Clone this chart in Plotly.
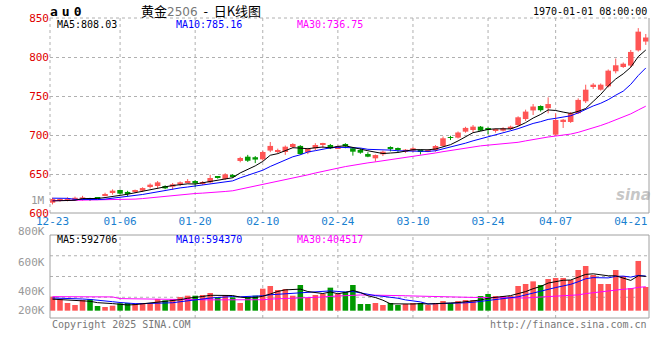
import plotly.graph_objects as go

# ---------------- data ----------------
dates = ["12-23","12-24","12-25","12-26","12-27","12-30","12-31",
         "01-02","01-03","01-06","01-07","01-08","01-09","01-10",
         "01-13","01-14","01-15","01-16","01-17","01-20","01-21",
         "01-22","01-23","01-24","01-27","02-05","02-06","02-07",
         "02-10","02-11","02-12","02-13","02-14","02-17","02-18",
         "02-19","02-20","02-21","02-24","02-25","02-26","02-27",
         "02-28","03-03","03-04","03-05","03-06","03-07","03-10",
         "03-11","03-12","03-13","03-14","03-17","03-18","03-19",
         "03-20","03-21","03-24","03-25","03-26","03-27","03-28",
         "03-31","04-01","04-02","04-03","04-07","04-08","04-09",
         "04-10","04-11","04-14","04-15","04-16","04-17","04-18",
         "04-21","04-22","04-23"]

opens = [613.2,615.5,616.5,617.5,617.5,618,619.5,622.5,625.6,629.5,
         627,627,628.6,633.3,634.6,634.6,633.8,636.3,639,641,
         637.2,639.3,646.3,643.6,648.5,666.7,672.2,671.5,668.8,680,
         678.2,678.2,684.6,686,677.8,682.9,687.2,687.2,683,688.5,
         683,680.8,675.6,670.1,675.3,684.6,683,678.6,680,680,
         679.2,680.8,685.9,696.8,696.6,704.3,706.4,710.7,707.8,706,
         705.5,707.7,712.8,720.5,731.5,737.2,734.4,700.4,717.6,716.7,
         728,743.2,762.4,758.1,762.4,781.7,787.2,789,808.5,819.8]
closes = [617.9,617,618,619.5,620,617,618.5,624,628.6,624.8,
          624.5,628.6,632,636.3,639.3,631.6,636.8,639.3,640,638,
          639.7,644.9,645.5,649.6,646.5,670.5,667,668.5,678.2,686,
          680.8,685,688.5,675.6,682.1,687.2,689.4,683,685.5,685.5,
          678.6,677.3,672.2,674.3,678.6,682,680.8,681.2,683,679.3,
          680.8,685.9,695.8,696.2,703.2,709.1,710.7,705.6,707,707.3,
          708.6,710.7,722.7,730,736.5,731.8,739.7,719.2,719.6,728,
          745,758.1,764.5,764.5,782.5,789.4,791.4,806.5,832.5,825]
highs = [619.6,618.5,620,621,622,619.5,620.5,626,630.3,630,
         628.5,630,633,638,641,635.5,638.5,640.5,643.5,642,
         641,649,647,651,650,672,674.5,673,679.5,691,
         682.5,686.5,689.5,687,683.5,689.5,690,688.5,686.5,689.5,
         684,683,678,675,680,685.5,684,682,684.5,681.4,
         681.5,687,698,699,704.5,710.5,712.8,711.5,709.8,708.5,
         710,712,724,732.5,739.7,738,748.3,728,720.5,729.5,
         747,764.5,766.5,766,784,798,793,809,837,829.5]
lows = [611,614.5,615,616.5,616,615.5,617.5,621.5,623.5,624,
        621.5,625.5,627,631.5,631.5,630.5,630,634.5,638,633.5,
        636,638,644,642.5,645,665,665.5,664,667,678,
        676.5,674.5,683,674.5,675.5,680.5,683,682,682,683,
        673.5,676,671.5,665.8,673,679,678,677,678,675,
        678,678.6,685,693.5,695.5,703,703.5,705,701,703,
        704.5,706.5,711.5,718,725.6,730,727.8,699,709,715.5,
        727,741,759,757,761,779,786,787,807,815.5]
volumes_k = [249,208,137,101,190,202,84,66,89,131,
             137,119,137,137,208,184,208,243,267,267,
             279,315,238,279,238,137,249,267,392,440,
             368,386,267,457,226,279,297,410,297,338,
             457,119,119,137,101,137,101,119,137,137,
             101,137,173,137,173,190,190,261,297,261,
             261,261,440,475,522,457,564,582,582,546,
             724,795,635,475,475,724,617,404,885,422]

# moving-average values before enough history exists
ma5_head = [615.5, 615.5, 615.8, 616.3]
ma10_head = [619.0, 619.0, 618.8, 617.5, 617.2, 617.0, 617.2, 617.8, 618.8]
ma30_head = [615.8, 615.9, 616.0, 616.1, 616.2, 616.3, 616.4, 616.6, 617.0, 617.3,
             617.5, 617.8, 618.5, 619.5, 620.5, 621.5, 622.5, 623.3, 624.0, 625.0,
             625.5, 626.0, 626.8, 627.6, 628.5, 630.5, 632.5, 634.5, 636.5]
vma5_head_k = [205, 200, 195, 190]
vma10_head_k = [226, 224, 220, 215, 208, 200, 190, 175, 160]
vma30_head_k = [250, 250, 249, 249, 248, 248, 247, 246, 245, 215, 212, 210, 208, 206,
                200, 199, 198, 197, 196, 195, 194, 193, 193, 192, 192, 192, 193, 194, 195]

price_ma_text = {"MA5": "808.03", "MA10": "785.16", "MA30": "736.75"}
vol_ma_text = {"MA5": "592706", "MA10": "594370", "MA30": "404517"}
tick_dates = ["12-23","01-06","01-20","02-10","02-24","03-10","03-24","04-07","04-21"]
price_ticks = [600, 650, 700, 750, 800, 850]
vol_labels = ["800K", "600K", "400K", "200K"]

# ---------------- helpers ----------------
def moving_avg(vals, n, head):
    out = list(head)
    for i in range(n - 1, len(vals)):
        out.append(sum(vals[i - n + 1:i + 1]) / n)
    return out

RED = "#ff5555"
GREEN = "#009900"
MONO = "DejaVu Sans Mono"
W, H = 660, 360

idx = list(range(len(dates)))
volumes = [v * 1000 for v in volumes_k]
up = [c >= o for o, c in zip(opens, closes)]
colors = [RED if u else GREEN for u in up]

fig = go.Figure()

# wicks
for flag, col in ((True, RED), (False, GREEN)):
    wx, wy = [], []
    for i in idx:
        if up[i] == flag:
            wx += [i, i, None]
            wy += [lows[i], highs[i], None]
    fig.add_trace(go.Scatter(x=wx, y=wy, mode="lines", line=dict(color=col, width=1),
                             hoverinfo="skip", xaxis="x", yaxis="y"))

# bodies
fig.add_trace(go.Bar(
    x=idx, base=[min(o, c) for o, c in zip(opens, closes)],
    y=[max(abs(c - o), 1.2) for o, c in zip(opens, closes)],
    width=0.74, marker=dict(color=colors, line=dict(width=0)),
    xaxis="x", yaxis="y"))

# price MAs
for n, head, col in ((30, ma30_head, "#ff00ff"), (10, ma10_head, "#0000ff"), (5, ma5_head, "#000000")):
    fig.add_trace(go.Scatter(x=idx, y=moving_avg(closes, n, head), mode="lines",
                             line=dict(color=col, width=1), xaxis="x", yaxis="y"))

# volume bars
fig.add_trace(go.Bar(x=idx, y=volumes, width=0.74,
                     marker=dict(color=colors, line=dict(width=0)),
                     xaxis="x2", yaxis="y2"))
for n, head, col in ((30, vma30_head_k, "#ff00ff"), (10, vma10_head_k, "#0000ff"), (5, vma5_head_k, "#000000")):
    fig.add_trace(go.Scatter(x=idx, y=moving_avg(volumes, n, [h * 1000 for h in head]), mode="lines",
                             line=dict(color=col, width=1), xaxis="x2", yaxis="y2"))

# ---------------- layout ----------------
xdom = [50 / W, 649 / W]
pdom = [1 - 213 / H, 1 - 18 / H]
vdom = [1 - 318 / H, 1 - 235 / H]
xr = [-0.33, 79.43]
tick_idx = [dates.index(d) for d in tick_dates]

fig.update_layout(
    width=W, height=H, margin=dict(l=0, r=0, t=0, b=0, autoexpand=False),
    paper_bgcolor="white", plot_bgcolor="white", showlegend=False,
    xaxis=dict(domain=xdom, range=xr, anchor="y", tickvals=tick_idx, ticktext=tick_dates,
               tickfont=dict(family=MONO, size=11, color="#1a80d0"), ticks="",
               showgrid=False, zeroline=False, showline=False, automargin=False),
    xaxis2=dict(domain=xdom, range=xr, anchor="y2", matches="x", showticklabels=False,
                showgrid=False, zeroline=False, showline=False, automargin=False),
    yaxis=dict(domain=pdom, range=[600, 850], tickvals=price_ticks,
               tickfont=dict(family=MONO, size=11, color="#e00000"), ticks="",
               showgrid=True, gridcolor="#b0b0b0", griddash="dot", gridwidth=1,
               zeroline=False, showline=False, automargin=False),
    yaxis2=dict(domain=vdom, range=[-130000, 1347000], showticklabels=False,
                showgrid=False, zeroline=False, showline=False, automargin=False),
)

shapes = []
grid = dict(color="#b0b0b0", width=1, dash="dot")
for ti in tick_idx[1:-1]:
    for yr in ("y domain", "y2 domain"):
        shapes.append(dict(type="line", xref="x", yref=yr, x0=ti, x1=ti, y0=0, y1=1,
                           line=grid, layer="below"))
for f in (0.25, 0.5, 0.75):
    shapes.append(dict(type="line", xref="x domain", yref="y2 domain", x0=0, x1=1, y0=f, y1=f,
                       line=grid, layer="below"))
# price frame: top and left dotted, right and bottom solid
shapes.append(dict(type="line", xref="x domain", yref="y domain", x0=0, x1=1, y0=1, y1=1, line=grid))
shapes.append(dict(type="line", xref="x domain", yref="y domain", x0=0, x1=0, y0=0, y1=1, line=grid))
solid = dict(color="#a0a0a0", width=1)
shapes.append(dict(type="line", xref="x domain", yref="y domain", x0=1, x1=1, y0=0, y1=1, line=solid))
shapes.append(dict(type="line", xref="x domain", yref="y domain", x0=0, x1=1, y0=0, y1=0, line=solid))
shapes.append(dict(type="rect", xref="x domain", yref="y2 domain", x0=0, x1=1, y0=0, y1=1, line=solid))
fig.update_layout(shapes=shapes)

def px(x):
    return x / W

def py(y):
    return 1 - y / H

ann = []
def text(t, x, y, anchor="left", size=10, color="#000", family=MONO, **kw):
    ann.append(dict(text=t, x=px(x), y=py(y), xref="paper", yref="paper", showarrow=False,
                    xanchor=anchor, yanchor="middle", font=dict(family=family, size=size, color=color), **kw))

text('<span style="letter-spacing:4px"><b>au0</b></span>', 48, 12, size=13, color="#000")
text('黄金<span style="font-family:DejaVu Sans;color:#777;font-size:12px">2506</span>  -  日K线图',
     201, 10, anchor="center", size=13, family="Noto Sans CJK SC")
text("1970-01-01 08:00:00", 649, 12, anchor="right", size=10)

ma_cols = {"MA5": "#000000", "MA10": "#0000ff", "MA30": "#ff00ff"}
ma_x = {"MA5": 55, "MA10": 174, "MA30": 295}
for k, v in price_ma_text.items():
    text(f"{k}:{v}", ma_x[k], 24.5, color=ma_cols[k])
for k, v in vol_ma_text.items():
    text(f"{k}:{v}", ma_x[k], 239, color=ma_cols[k])

text("1M", 47, 200, anchor="right", size=11, color="#999999")
for lab, y in zip(vol_labels, [231, 262, 291, 310]):
    text(lab, 47, y, anchor="right", size=11, color="#999999")

text("Copyright 2025 SINA.COM", 50, 324, size=10, color="#777777")
text("http://finance.sina.com.cn", 649, 324, anchor="right", size=10, color="#777777")
text("<i><b>sina</b></i>", 633, 195, anchor="center", size=15, color="rgba(150,150,150,0.55)",
     family="DejaVu Sans")

fig.update_layout(annotations=ann)
fig.write_html("out.html", config={"displayModeBar": False},
               post_script="document.body.style.margin='0';document.body.style.padding='0';")
